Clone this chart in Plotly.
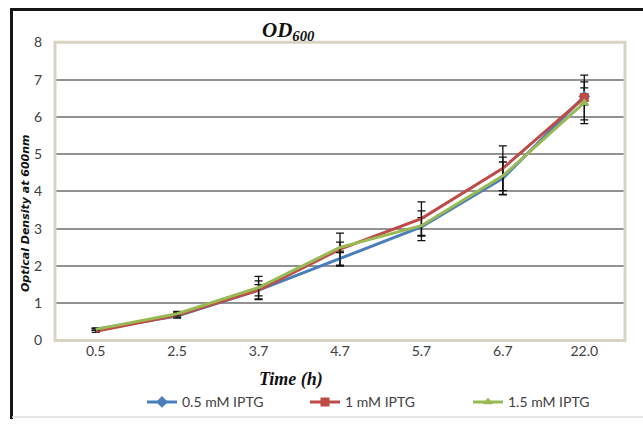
import plotly.graph_objects as go

categories = ["0.5", "2.5", "3.7", "4.7", "5.7", "6.7", "22.0"]
series_names = ["0.5 mM IPTG", "1 mM IPTG", "1.5 mM IPTG"]
od_05 = [0.30, 0.66, 1.35, 2.20, 3.05, 4.35, 6.55]
od_1 = [0.25, 0.68, 1.35, 2.45, 3.27, 4.62, 6.52]
od_15 = [0.30, 0.72, 1.42, 2.50, 3.08, 4.42, 6.38]
err_05 = [0.03, 0.05, 0.15, 0.20, 0.25, 0.44, 0.23]
err_1 = [0.03, 0.07, 0.25, 0.43, 0.45, 0.60, 0.60]
err_15 = [0.03, 0.06, 0.30, 0.14, 0.40, 0.50, 0.56]
y_ticks = [0, 1, 2, 3, 4, 5, 6, 7, 8]

colors = ["#4a7ebb", "#be4b48", "#98b954"]
symbols = ["diamond", "square", "triangle-up"]

# window / paper geometry in pixels
W, H = 643, 427
ML, MT = 10, 9           # paper starts here (margins)
L, R, T, B = 55, 625, 43, 347   # plot area
def PX(x):
    return (x - ML) / (W - ML)
def PY(y):
    return (H - y) / (H - MT)

fig = go.Figure()
for name, ys, es, c in zip(series_names, [od_05, od_1, od_15], [err_05, err_1, err_15], colors):
    fig.add_trace(go.Scatter(
        x=categories, y=ys, mode="lines", name=name, showlegend=False,
        line=dict(color=c, width=3),
        error_y=dict(type="data", array=es, visible=True, color="#111111", thickness=1.3, width=4),
    ))
for name, ys, c, s in zip(series_names, [od_05, od_1, od_15], colors, symbols):
    fig.add_trace(go.Scatter(
        x=categories[-1:], y=ys[-1:], mode="lines+markers", name=name,
        line=dict(color=c, width=3),
        marker=dict(color=c, symbol=s, size=9),
    ))

fig.update_layout(
    width=W, height=H,
    margin=dict(l=ML, r=0, t=MT, b=0, pad=0),
    paper_bgcolor="white", plot_bgcolor="white",
    font=dict(family="Lato", size=14, color="#404040"),
    showlegend=True,
    legend=dict(orientation="h", x=PX(142), y=PY(410), xanchor="left", yanchor="middle",
                entrywidth=118, font=dict(family="Lato", size=14, color="#404040"),
                bgcolor="rgba(0,0,0,0)"),
    xaxis=dict(type="category", categoryorder="array", categoryarray=categories,
               domain=[PX(L), PX(R)], range=[-0.5, len(categories) - 0.5],
               showgrid=False, zeroline=False, showline=False, ticks="", ticklabelstandoff=0),
    yaxis=dict(domain=[PY(B), PY(T)], range=[0, 8], tickvals=y_ticks, showgrid=True,
               gridcolor="#929292", gridwidth=1.6, zeroline=False, showline=False, ticks="",
               ticklabelstandoff=12),
    shapes=[
        dict(type="rect", xref="paper", yref="paper", x0=PX(L), x1=PX(R), y0=PY(B), y1=PY(T),
             line=dict(color="#d8d4c3", width=3), layer="above"),
        dict(type="line", xref="paper", yref="paper", x0=PX(10), x1=PX(643), y0=PY(9.5), y1=PY(9.5),
             line=dict(color="#151515", width=3), layer="above"),
        dict(type="line", xref="paper", yref="paper", x0=PX(11.5), x1=PX(11.5), y0=PY(8), y1=PY(427),
             line=dict(color="#151515", width=3), layer="above"),
        dict(type="line", xref="paper", yref="paper", x0=PX(12), x1=PX(643), y0=PY(425), y1=PY(425),
             line=dict(color="#dcdcdc", width=1.5), layer="above"),
    ],
    annotations=[
        dict(text="<b><i>OD<sub>600</sub></i></b>", xref="paper", yref="paper", x=PX(288), y=PY(31),
             xanchor="center", yanchor="middle", showarrow=False,
             font=dict(family="Liberation Serif", size=21, color="#111111")),
        dict(text="<b><i>Time (h)</i></b>", xref="paper", yref="paper", x=PX(291), y=PY(387),
             xanchor="center", yanchor="middle", showarrow=False,
             font=dict(family="Liberation Serif", size=18, color="#111111")),
        dict(text="<b><i>Optical Density at 600nm</i></b>", xref="paper", yref="paper",
             x=PX(25), y=PY(217), xanchor="center", yanchor="middle", textangle=-90, showarrow=False,
             font=dict(family="DejaVu Sans", size=11, color="#111111")),
    ],
)

fig.write_html("out.html", config={"displayModeBar": False},
               post_script="document.body.style.margin='0';document.body.style.overflow='hidden';")
